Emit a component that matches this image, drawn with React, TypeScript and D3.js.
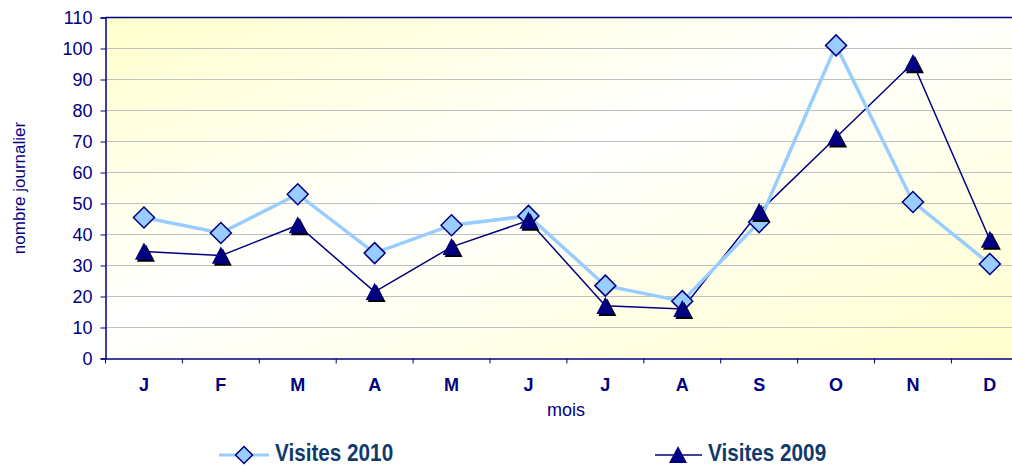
import { useRef, useEffect } from 'react';
import * as d3 from 'd3';

const months = ['J', 'F', 'M', 'A', 'M', 'J', 'J', 'A', 'S', 'O', 'N', 'D'];
const visites2010 = [45.5, 40.5, 53, 34, 43, 46, 23.5, 18.5, 44, 101, 50.5, 30.5];
const visites2009 = [34.5, 33.2, 43, 21.5, 36, 44.5, 17, 16, 47.3, 71.3, 95.3, 38.3];
const yTicks = [0, 10, 20, 30, 40, 50, 60, 70, 80, 90, 100, 110];

const NAVY = '#000080';
const LIGHT = '#99CCFF';
const FONT = 'Liberation Sans, Arial, sans-serif';

const App: React.FC = () => {
  const svgRef = useRef<SVGSVGElement>(null);

  useEffect(() => {
    if (!svgRef.current) return;
    d3.select(svgRef.current).selectAll('*').remove();
    const svg = d3.select(svgRef.current);

    const left = 105.5;
    const top = 17.5;
    const bottom = 358.5;
    const bandW = 76.9;
    const right = left + bandW * months.length;

    const x = d3.scaleBand<number>()
      .domain(d3.range(months.length))
      .range([left, right]);
    const y = d3.scaleLinear().domain([0, 110]).range([bottom, top]);
    const cx = (i: number) => (x(i) as number) + x.bandwidth() / 2;

    const defs = svg.append('defs');
    const grad = defs.append('linearGradient')
      .attr('id', 'bg')
      .attr('x1', '0%').attr('y1', '0%')
      .attr('x2', '100%').attr('y2', '100%');
    grad.append('stop').attr('offset', '0%').attr('stop-color', '#FFFFCC');
    grad.append('stop').attr('offset', '45%').attr('stop-color', '#FFFFFF');
    grad.append('stop').attr('offset', '100%').attr('stop-color', '#FFFFCC');

    // plot background
    svg.append('rect')
      .attr('x', left).attr('y', top)
      .attr('width', right - left).attr('height', bottom - top)
      .attr('fill', 'url(#bg)');

    // gridlines
    svg.append('g').selectAll('line')
      .data(yTicks.filter(t => t > 0 && t < 110))
      .enter().append('line')
      .attr('x1', left).attr('x2', right)
      .attr('y1', d => y(d)).attr('y2', d => y(d))
      .attr('stroke', '#C0C0C0').attr('stroke-width', 1);

    // frame top
    svg.append('line')
      .attr('x1', left).attr('x2', right)
      .attr('y1', top).attr('y2', top)
      .attr('stroke', NAVY).attr('stroke-width', 1.5);

    // y axis
    const yAxis = svg.append('g')
      .attr('transform', `translate(${left},0)`)
      .call(d3.axisLeft(y).tickValues(yTicks).tickSize(5).tickPadding(8));
    yAxis.select('.domain').attr('stroke', NAVY).attr('stroke-width', 1.5);
    yAxis.selectAll('.tick line').attr('stroke', NAVY);
    yAxis.selectAll('.tick text')
      .attr('fill', NAVY)
      .attr('font-family', FONT)
      .attr('font-size', '18px');

    // x axis
    const xAxis = svg.append('g')
      .attr('transform', `translate(0,${bottom})`)
      .call(d3.axisBottom(x).tickSize(0).tickFormat(i => months[i as number]).tickPadding(20));
    xAxis.select('.domain').attr('stroke', NAVY).attr('stroke-width', 1.5);
    xAxis.selectAll('.tick text')
      .attr('fill', NAVY)
      .attr('font-family', FONT)
      .attr('font-weight', 'bold')
      .attr('font-size', '18px');
    svg.append('g').selectAll('line')
      .data(d3.range(months.length + 1))
      .enter().append('line')
      .attr('x1', i => left + i * x.bandwidth()).attr('x2', i => left + i * x.bandwidth())
      .attr('y1', bottom).attr('y2', bottom + 5)
      .attr('stroke', NAVY).attr('stroke-width', 1);

    // axis titles
    svg.append('text')
      .attr('transform', `translate(25,${(top + bottom) / 2}) rotate(-90)`)
      .attr('text-anchor', 'middle')
      .attr('fill', NAVY)
      .attr('font-family', FONT)
      .attr('font-size', '17px')
      .text('nombre journalier');
    svg.append('text')
      .attr('x', 566).attr('y', 416)
      .attr('text-anchor', 'middle')
      .attr('fill', NAVY)
      .attr('font-family', FONT)
      .attr('font-size', '18px')
      .text('mois');

    const line = d3.line<number>()
      .x((d, i) => cx(i))
      .y(d => y(d));

    // 2009 series
    svg.append('path')
      .datum(visites2009)
      .attr('d', line)
      .attr('fill', 'none')
      .attr('stroke', NAVY)
      .attr('stroke-width', 1.5);

    // 2010 series
    svg.append('path')
      .datum(visites2010)
      .attr('d', line)
      .attr('fill', 'none')
      .attr('stroke', LIGHT)
      .attr('stroke-width', 3.5);

    const diamond = (s: number) => `M0,${-s}L${s},0L0,${s}L${-s},0Z`;
    const triangle = (s: number) => `M0,${-s}L${s},${s * 0.9}L${-s},${s * 0.9}Z`;

    svg.append('g').selectAll('path')
      .data(visites2010)
      .enter().append('path')
      .attr('transform', (d, i) => `translate(${cx(i)},${y(d)})`)
      .attr('d', diamond(10.5))
      .attr('fill', LIGHT)
      .attr('stroke', NAVY)
      .attr('stroke-width', 1.5);

    const tri = svg.append('g').selectAll('g')
      .data(visites2009)
      .enter().append('g')
      .attr('transform', (d, i) => `translate(${cx(i)},${y(d)})`);
    tri.append('path')
      .attr('transform', 'translate(2,2)')
      .attr('d', triangle(9))
      .attr('fill', '#000');
    tri.append('path')
      .attr('d', triangle(9))
      .attr('fill', NAVY);

    // legend
    const leg = svg.append('g');
    leg.append('line')
      .attr('x1', 219).attr('x2', 269).attr('y1', 455).attr('y2', 455)
      .attr('stroke', LIGHT).attr('stroke-width', 3);
    leg.append('path')
      .attr('transform', 'translate(244,455)')
      .attr('d', diamond(8.5))
      .attr('fill', LIGHT).attr('stroke', NAVY).attr('stroke-width', 1.5);
    leg.append('text')
      .attr('transform', 'translate(275,461) scale(0.9,1)')
      .attr('fill', '#0F3A6B')
      .attr('font-family', FONT)
      .attr('font-weight', 'bold')
      .attr('font-size', '23px')
      .text('Visites 2010');

    leg.append('line')
      .attr('x1', 655).attr('x2', 702).attr('y1', 455).attr('y2', 455)
      .attr('stroke', NAVY).attr('stroke-width', 1.5);
    leg.append('path')
      .attr('transform', 'translate(678,455)')
      .attr('d', triangle(9))
      .attr('fill', NAVY);
    leg.append('text')
      .attr('transform', 'translate(708,461) scale(0.9,1)')
      .attr('fill', '#0F3A6B')
      .attr('font-family', FONT)
      .attr('font-weight', 'bold')
      .attr('font-size', '23px')
      .text('Visites 2009');
  }, []);

  return (
    <div style={{ position: 'fixed', left: 0, top: 0, width: 1012, height: 466, overflow: 'hidden', background: '#fff' }}>
      <svg ref={svgRef} width={1012} height={466} style={{ display: 'block' }} />
    </div>
  );
};

export default App;
